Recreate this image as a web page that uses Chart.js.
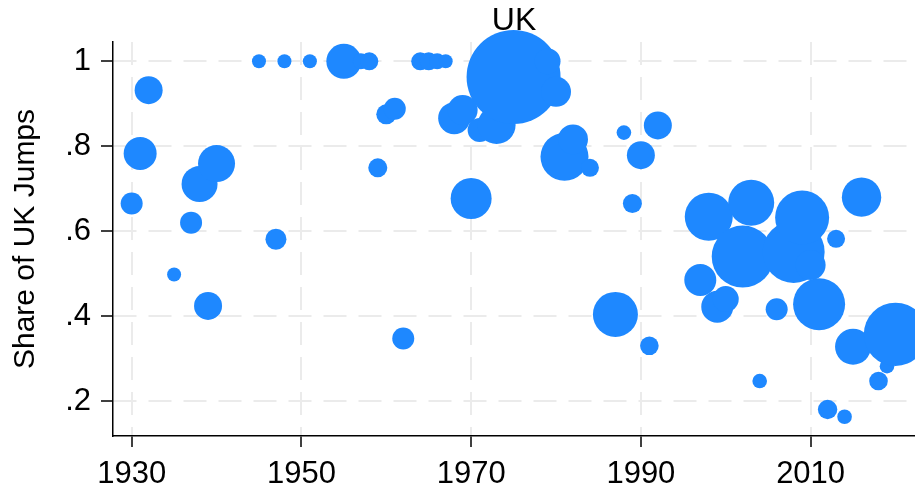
<!DOCTYPE html>
<html>
<head>
<meta charset="utf-8">
<script src="https://cdn.jsdelivr.net/npm/chart.js@4.4.0/dist/chart.umd.min.js"></script>
<style>
  html, body { margin: 0; padding: 0; background: #fff; }
  #wrap { width: 915px; height: 491px; }
</style>
</head>
<body>
<div id="wrap"><canvas id="chartArea"></canvas></div>
<script>
// data
const years = [1930, 1931, 1932, 1935, 1937, 1938, 1939, 1940, 1945, 1947,
  1948, 1951, 1955, 1957, 1958, 1959, 1960, 1961, 1962, 1964,
  1965, 1966, 1967, 1968, 1969, 1970, 1971, 1973, 1975, 1979,
  1980, 1981, 1982, 1984, 1987, 1988, 1989, 1990, 1991, 1992,
  1997, 1998, 1999, 2000, 2002, 2003, 2004, 2006, 2008, 2009,
  2010, 2011, 2012, 2013, 2014, 2015, 2016, 2018, 2019, 2020];
const shares = [0.665, 0.783, 0.932, 0.498, 0.620, 0.711, 0.424, 0.759, 1.0, 0.581,
  1.0, 1.0, 1.0, 1.0, 1.0, 0.749, 0.875, 0.888, 0.347, 1.0,
  1.0, 1.0, 1.0, 0.866, 0.885, 0.677, 0.838, 0.85, 0.963, 1.0,
  0.928, 0.775, 0.816, 0.749, 0.404, 0.832, 0.665, 0.779, 0.330, 0.849,
  0.485, 0.634, 0.422, 0.44, 0.54, 0.667, 0.247, 0.416, 0.551, 0.632,
  0.52, 0.428, 0.180, 0.582, 0.163, 0.328, 0.680, 0.247, 0.282, 0.357];
// bubble radius (jump count weight)
const radii = [11, 16.5, 14, 7, 11, 18, 14, 18.5, 7, 10.5,
  7, 7, 17.5, 8, 9, 9.5, 10, 11, 11, 9,
  9, 8, 7, 16, 15, 20.5, 12, 19, 47, 13,
  15, 24, 15, 9, 22.5, 7.3, 9.5, 14, 9.3, 14,
  16, 24, 16, 13, 31, 23, 7.3, 11, 31, 27,
  15, 26, 9.7, 9, 7.3, 18, 19.7, 9.3, 7.3, 31.7];
const xTicks = [1930, 1950, 1970, 1990, 2010];
const yTicks = [0.2, 0.4, 0.6, 0.8, 1];
const yTickLabels = ['.2', '.4', '.6', '.8', '1'];

const points = years.map((y, i) => ({ x: y, y: shares[i], r: radii[i] }));
const font = 'Liberation Sans, Arial, Helvetica, sans-serif';

const gridOpts = {
  color: '#ebebeb',
  lineWidth: 2,
  tickColor: '#000',
  tickWidth: 1.5,
  tickBorderDash: [],
};

const chartArea = document.getElementById('chartArea');
new Chart(chartArea, {
  type: 'bubble',
  data: {
    datasets: [{
      data: points,
      backgroundColor: 'rgb(30, 136, 255)',
      borderWidth: 0,
      hoverBorderWidth: 0,
      clip: false,
    }],
  },
  options: {
    responsive: true,
    maintainAspectRatio: false,
    animation: false,
    events: [],
    layout: { padding: 0, autoPadding: false },
    plugins: {
      legend: { display: false },
      tooltip: { enabled: false },
    },
    scales: {
      x: {
        type: 'linear',
        min: 1927.8,
        max: 2022.3,
        afterBuildTicks: (scale) => { scale.ticks = xTicks.map(v => ({ value: v })); },
        afterFit: (scale) => { scale.height = 55; },
        ticks: {
          color: '#000',
          font: { family: font, size: 31 },
          padding: 9,
          maxRotation: 0,
          callback: (v) => String(v),
        },
        grid: { ...gridOpts, tickLength: 11 },
        border: { color: '#000', width: 1.5, dash: [23, 12] },
      },
      // top axis only carries the "UK" title, centred over the plot
      top: {
        type: 'linear',
        position: 'top',
        min: 0,
        max: 1,
        afterFit: (scale) => { scale.height = 42; },
        ticks: { display: false },
        grid: { display: false },
        border: { display: false },
        title: {
          display: true,
          text: 'UK',
          color: '#000',
          font: { family: font, size: 32 },
          padding: { top: 2, bottom: 0 },
        },
      },
      y: {
        type: 'linear',
        min: 0.1176,
        max: 1.0454,
        afterBuildTicks: (scale) => { scale.ticks = yTicks.map(v => ({ value: v })); },
        afterFit: (scale) => { scale.width = 113; },
        ticks: {
          color: '#000',
          font: { family: font, size: 31 },
          padding: 10,
          callback: (v) => yTickLabels[yTicks.indexOf(v)],
        },
        grid: { ...gridOpts, tickLength: 12 },
        border: { color: '#000', width: 1.5, dash: [23, 12] },
        title: {
          display: true,
          text: 'Share of UK Jumps',
          color: '#000',
          font: { family: font, size: 30 },
          padding: { top: 8, bottom: 0 },
        },
      },
    },
  },
});
</script>
</body>
</html>
